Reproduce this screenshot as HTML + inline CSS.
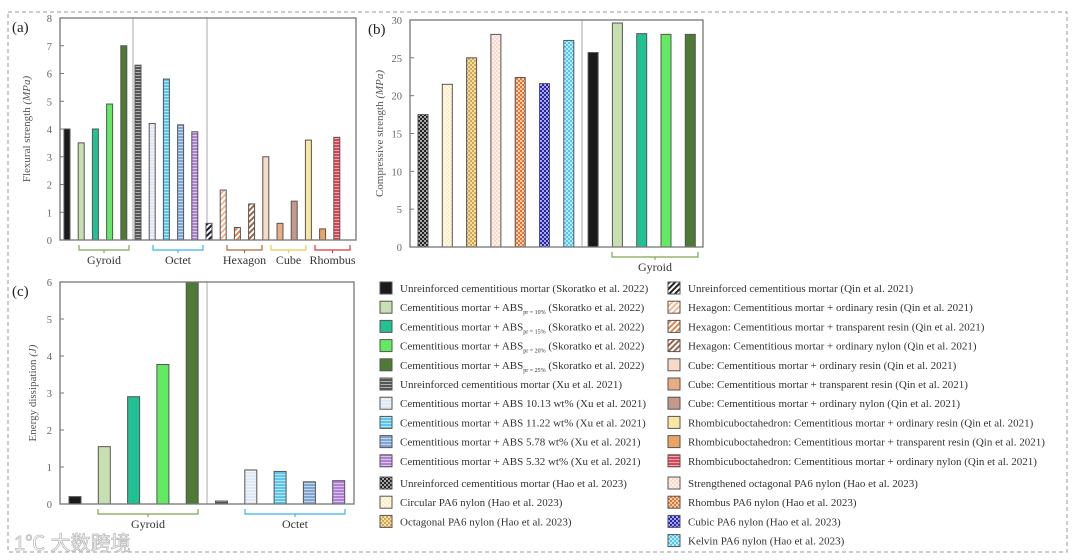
<!DOCTYPE html>
<html><head><meta charset="utf-8"><style>
html,body{margin:0;padding:0;background:#fff;}
svg{display:block;font-family:"Liberation Serif",serif;}
</style></head><body>
<svg id="fig" width="1080" height="560" viewBox="0 0 1080 560">
<defs></defs>
<rect x="8" y="12" width="1059" height="540" fill="none" stroke="#999" stroke-dasharray="4,3"/>
<g id="root"></g>
</svg>
<script>
// ---------- Panel (a) data ----------
const aCategories = ["Sk-0","Sk-10","Sk-15","Sk-20","Sk-25","Xu-0","Xu-10.13","Xu-11.22","Xu-5.78","Xu-5.32","Qin-0","Hex-OR","Hex-TR","Hex-ON","Cube-OR","Cube-TR","Cube-ON","Rh-OR","Rh-TR","Rh-ON"];
const aValues = [4.0,3.5,4.0,4.9,7.0,6.3,4.2,5.8,4.15,3.9,0.6,1.8,0.45,1.3,3.0,0.6,1.4,3.6,0.4,3.7];
const aTicks = [0,1,2,3,4,5,6,7,8];
// ---------- Panel (b) data ----------
const bCategories = ["Hao-0","Circular","Octagonal","Strengthened","Rhombus","Cubic","Kelvin","Sk-0","Sk-10","Sk-15","Sk-20","Sk-25"];
const bValues = [17.5,21.5,25.0,28.1,22.4,21.6,27.3,25.7,29.6,28.2,28.1,28.1];
const bTicks = [0,5,10,15,20,25,30];
// ---------- Panel (c) data ----------
const cCategories = ["Sk-0","Sk-10","Sk-15","Sk-20","Sk-25","Xu-0","Xu-10.13","Xu-11.22","Xu-5.78","Xu-5.32"];
const cValues = [0.2,1.55,2.9,3.77,6.0,0.08,0.92,0.88,0.6,0.63];
const cTicks = [0,1,2,3,4,5,6];

const STY = {
 "Sk-0":["#1a1a1a","solid"],"Sk-10":["#c6e0b2","solid"],"Sk-15":["#22c193","solid"],"Sk-20":["#62ea62","solid"],"Sk-25":["#4e7a36","solid"],
 "Xu-0":["#555","h"],"Xu-10.13":["#dfe9f3","h"],"Xu-11.22":["#5cc6ef","h"],"Xu-5.78":["#7ea5d6","h"],"Xu-5.32":["#b07fd8","h"],
 "Qin-0":["#222","d"],"Hex-OR":["#f2b890","d"],"Hex-TR":["#e0844a","d"],"Hex-ON":["#9a6545","d"],
 "Cube-OR":["#f8dac6","solid"],"Cube-TR":["#e9ad86","solid"],"Cube-ON":["#c4988a","solid"],
 "Rh-OR":["#f8e6a2","solid"],"Rh-TR":["#eaa464","solid"],"Rh-ON":["#e04454","h"],
 "Hao-0":["#222","c"],"Circular":["#fbeec2","c"],"Octagonal":["#d5a942","c"],"Strengthened":["#fbd9c9","c"],"Rhombus":["#e07a32","c"],"Cubic":["#2424c0","c"],"Kelvin":["#52c8f0","c"]
};
const NS="http://www.w3.org/2000/svg";
const root=document.getElementById('root');
function mk(tag,attrs,parent){const e=document.createElementNS(NS,tag);for(const k in attrs)e.setAttribute(k,attrs[k]);(parent||root).appendChild(e);return e;}
let pid=0;
function fillFor(key){
 const [col,pat]=STY[key];
 if(pat==="solid")return col;
 const defs=document.querySelector('defs');const id='pt'+(pid++);
 let p;
 if(pat==="h"){p=mk('pattern',{id:id,width:4,height:3,patternUnits:'userSpaceOnUse'},defs);mk('rect',{width:4,height:3,fill:col},p);mk('rect',{width:4,height:1,fill:'#fff','fill-opacity':0.55},p);}
 else if(pat==="d"){p=mk('pattern',{id:id,width:4,height:4,patternUnits:'userSpaceOnUse',patternTransform:'rotate(45)'},defs);mk('rect',{width:4,height:4,fill:'#fff'},p);mk('rect',{width:2,height:4,fill:col},p);}
 else {p=mk('pattern',{id:id,width:4,height:4,patternUnits:'userSpaceOnUse'},defs);mk('rect',{width:4,height:4,fill:col},p);mk('rect',{width:2,height:2,fill:'#fff','fill-opacity':0.6},p);mk('rect',{x:2,y:2,width:2,height:2,fill:'#fff','fill-opacity':0.6},p);}
 return 'url(#'+id+')';
}
function panel(o){
 const g=mk('g',{});
 
 
 const y=v=>o.y1-(v-o.ticks[0])/(o.ticks[o.ticks.length-1]-o.ticks[0])*(o.y1-o.y0);
 const x=i=>o.bx0+i*o.step;
 o.seps.forEach(s=>{const l=mk('line',{x1:s,x2:s,y1:o.y0,y2:o.y1,stroke:'#aaa','stroke-width':1},g);});
 o.cats.forEach((c,i)=>{const v=o.vals[i];const r=mk('rect',{x:x(i)-o.bw/2,y:y(v),width:o.bw,height:y(0)-y(v),fill:fillFor(c),stroke:'#555','stroke-width':1},g);});
 const f=mk('rect',{x:o.x0,y:o.y0,width:o.x1-o.x0,height:o.y1-o.y0,fill:'none',stroke:'#777','stroke-width':1.3},g);
 
 o.ticks.forEach(t=>{const yy=y(t);mk('line',{x1:o.x0,x2:o.x0+4,y1:yy,y2:yy,stroke:'#777'},g);
  const tx=mk('text',{x:o.x0-8,y:yy+4,'text-anchor':'end','font-size':10.5,fill:'#666'},g);tx.textContent=t;});
 const yl=mk('text',{x:0,y:0,transform:`translate(${o.ylx},${(o.y0+o.y1)/2}) rotate(-90)`,'text-anchor':'middle','font-size':11,fill:'#555'},g);
 yl.innerHTML=o.ylab;
 const pl=mk('text',{x:o.plx,y:o.y0+14,'font-size':15,fill:'#222'},g);pl.textContent=o.label;
 o.groups.forEach(gr=>{const [a,b,txt,col]=gr;const by=o.y1+5;const m=(a+b)/2;
  const br=mk('path',{d:`M${a},${by} V${by+5} H${b} V${by} M${m},${by+5} V${by+8}`,fill:'none',stroke:col,'stroke-width':1.2},g);
  const t=mk('text',{x:m,y:by+19,'text-anchor':'middle','font-size':12,fill:'#333'},g);t.textContent=txt;});
}
panel({name:'panel-a-flexural',label:'(a)',plx:12,cats:aCategories,vals:aValues,ticks:aTicks,x0:60,x1:356,y0:18,y1:240,bx0:67,step:14.2,bw:6,seps:[133,207],ylx:30,ylab:'Flexural strength <tspan font-style="italic">(MPa)</tspan>',
 groups:[[79,129,'Gyroid','#7aa84e'],[153,203,'Octet','#3ab4e8'],[227,262,'Hexagon','#b36a3a'],[271,306,'Cube','#f0c850'],[315,350,'Rhombus','#d83a3a']]});
panel({name:'panel-b-compressive',label:'(b)',plx:368,cats:bCategories,vals:bValues,ticks:bTicks,x0:410,x1:703,y0:20,y1:247,bx0:423,step:24.3,bw:10,seps:[582],ylx:383,ylab:'Compressive strength <tspan font-style="italic">(MPa)</tspan>',
 groups:[[612,698,'Gyroid','#7aa84e']]});
panel({name:'panel-c-energy',label:'(c)',plx:12,cats:cCategories,vals:cValues,ticks:cTicks,x0:60,x1:354,y0:282,y1:504,bx0:75,step:29.3,bw:12,seps:[207],ylx:36,ylab:'Energy dissipation <tspan font-style="italic">(J)</tspan>',
 groups:[[98,198,'Gyroid','#7aa84e'],[245,345,'Octet','#3ab4e8']]});

// ---------- Legend ----------
const legCol1Keys=["Sk-0","Sk-10","Sk-15","Sk-20","Sk-25","Xu-0","Xu-10.13","Xu-11.22","Xu-5.78","Xu-5.32","Hao-0","Circular","Octagonal"];
const legCol1Text=["Unreinforced cementitious mortar (Skoratko et al. 2022)","Cementitious mortar + ABS<tspan font-size='6' dy='3'>pr = 10%</tspan><tspan dy='-3'> (Skoratko et al. 2022)</tspan>","Cementitious mortar + ABS<tspan font-size='6' dy='3'>pr = 15%</tspan><tspan dy='-3'> (Skoratko et al. 2022)</tspan>","Cementitious mortar + ABS<tspan font-size='6' dy='3'>pr = 20%</tspan><tspan dy='-3'> (Skoratko et al. 2022)</tspan>","Cementitious mortar + ABS<tspan font-size='6' dy='3'>pr = 25%</tspan><tspan dy='-3'> (Skoratko et al. 2022)</tspan>","Unreinforced cementitious mortar (Xu et al. 2021)","Cementitious mortar + ABS 10.13 wt% (Xu et al. 2021)","Cementitious mortar + ABS 11.22 wt% (Xu et al. 2021)","Cementitious mortar + ABS 5.78 wt% (Xu et al. 2021)","Cementitious mortar + ABS 5.32 wt% (Xu et al. 2021)","Unreinforced cementitious mortar (Hao et al. 2023)","Circular PA6 nylon (Hao et al. 2023)","Octagonal PA6 nylon (Hao et al. 2023)"];
const legCol2Keys=["Qin-0","Hex-OR","Hex-TR","Hex-ON","Cube-OR","Cube-TR","Cube-ON","Rh-OR","Rh-TR","Rh-ON","Strengthened","Rhombus","Cubic","Kelvin"];
const legCol2Text=["Unreinforced cementitious mortar (Qin et al. 2021)","Hexagon: Cementitious mortar + ordinary resin (Qin et al. 2021)","Hexagon: Cementitious mortar + transparent resin (Qin et al. 2021)","Hexagon: Cementitious mortar + ordinary nylon (Qin et al. 2021)","Cube: Cementitious mortar + ordinary resin (Qin et al. 2021)","Cube: Cementitious mortar + transparent resin (Qin et al. 2021)","Cube: Cementitious mortar + ordinary nylon (Qin et al. 2021)","Rhombicuboctahedron: Cementitious mortar + ordinary resin (Qin et al. 2021)","Rhombicuboctahedron: Cementitious mortar + transparent resin (Qin et al. 2021)","Rhombicuboctahedron: Cementitious mortar + ordinary nylon (Qin et al. 2021)","Strengthened octagonal PA6 nylon (Hao et al. 2023)","Rhombus PA6 nylon (Hao et al. 2023)","Cubic PA6 nylon (Hao et al. 2023)","Kelvin PA6 nylon (Hao et al. 2023)"];
function legendCol(keys,texts,sx,ys){
 keys.forEach((k,i)=>{const yy=ys(i);
  const s=mk('rect',{x:sx,y:yy-6,width:12,height:12,fill:fillFor(k),stroke:'#555','stroke-width':1});
  
  const t=mk('text',{x:sx+20,y:yy+4,'font-size':11,fill:'#333'});t.innerHTML=texts[i];
  });
}
legendCol(legCol1Keys,legCol1Text,380,i=>288+i*19.2+(i>=10?3:0));
legendCol(legCol2Keys,legCol2Text,668,i=>288+i*19.2+(i>=10?3:0));
const wm=mk('text',{x:14,y:550,'font-size':20,fill:'#fff',stroke:'#bbb','stroke-width':0.8,'font-family':'"Liberation Sans","Noto Sans CJK SC",sans-serif'});
wm.textContent='1℃ 大数跨境';


</script>
</body></html>
